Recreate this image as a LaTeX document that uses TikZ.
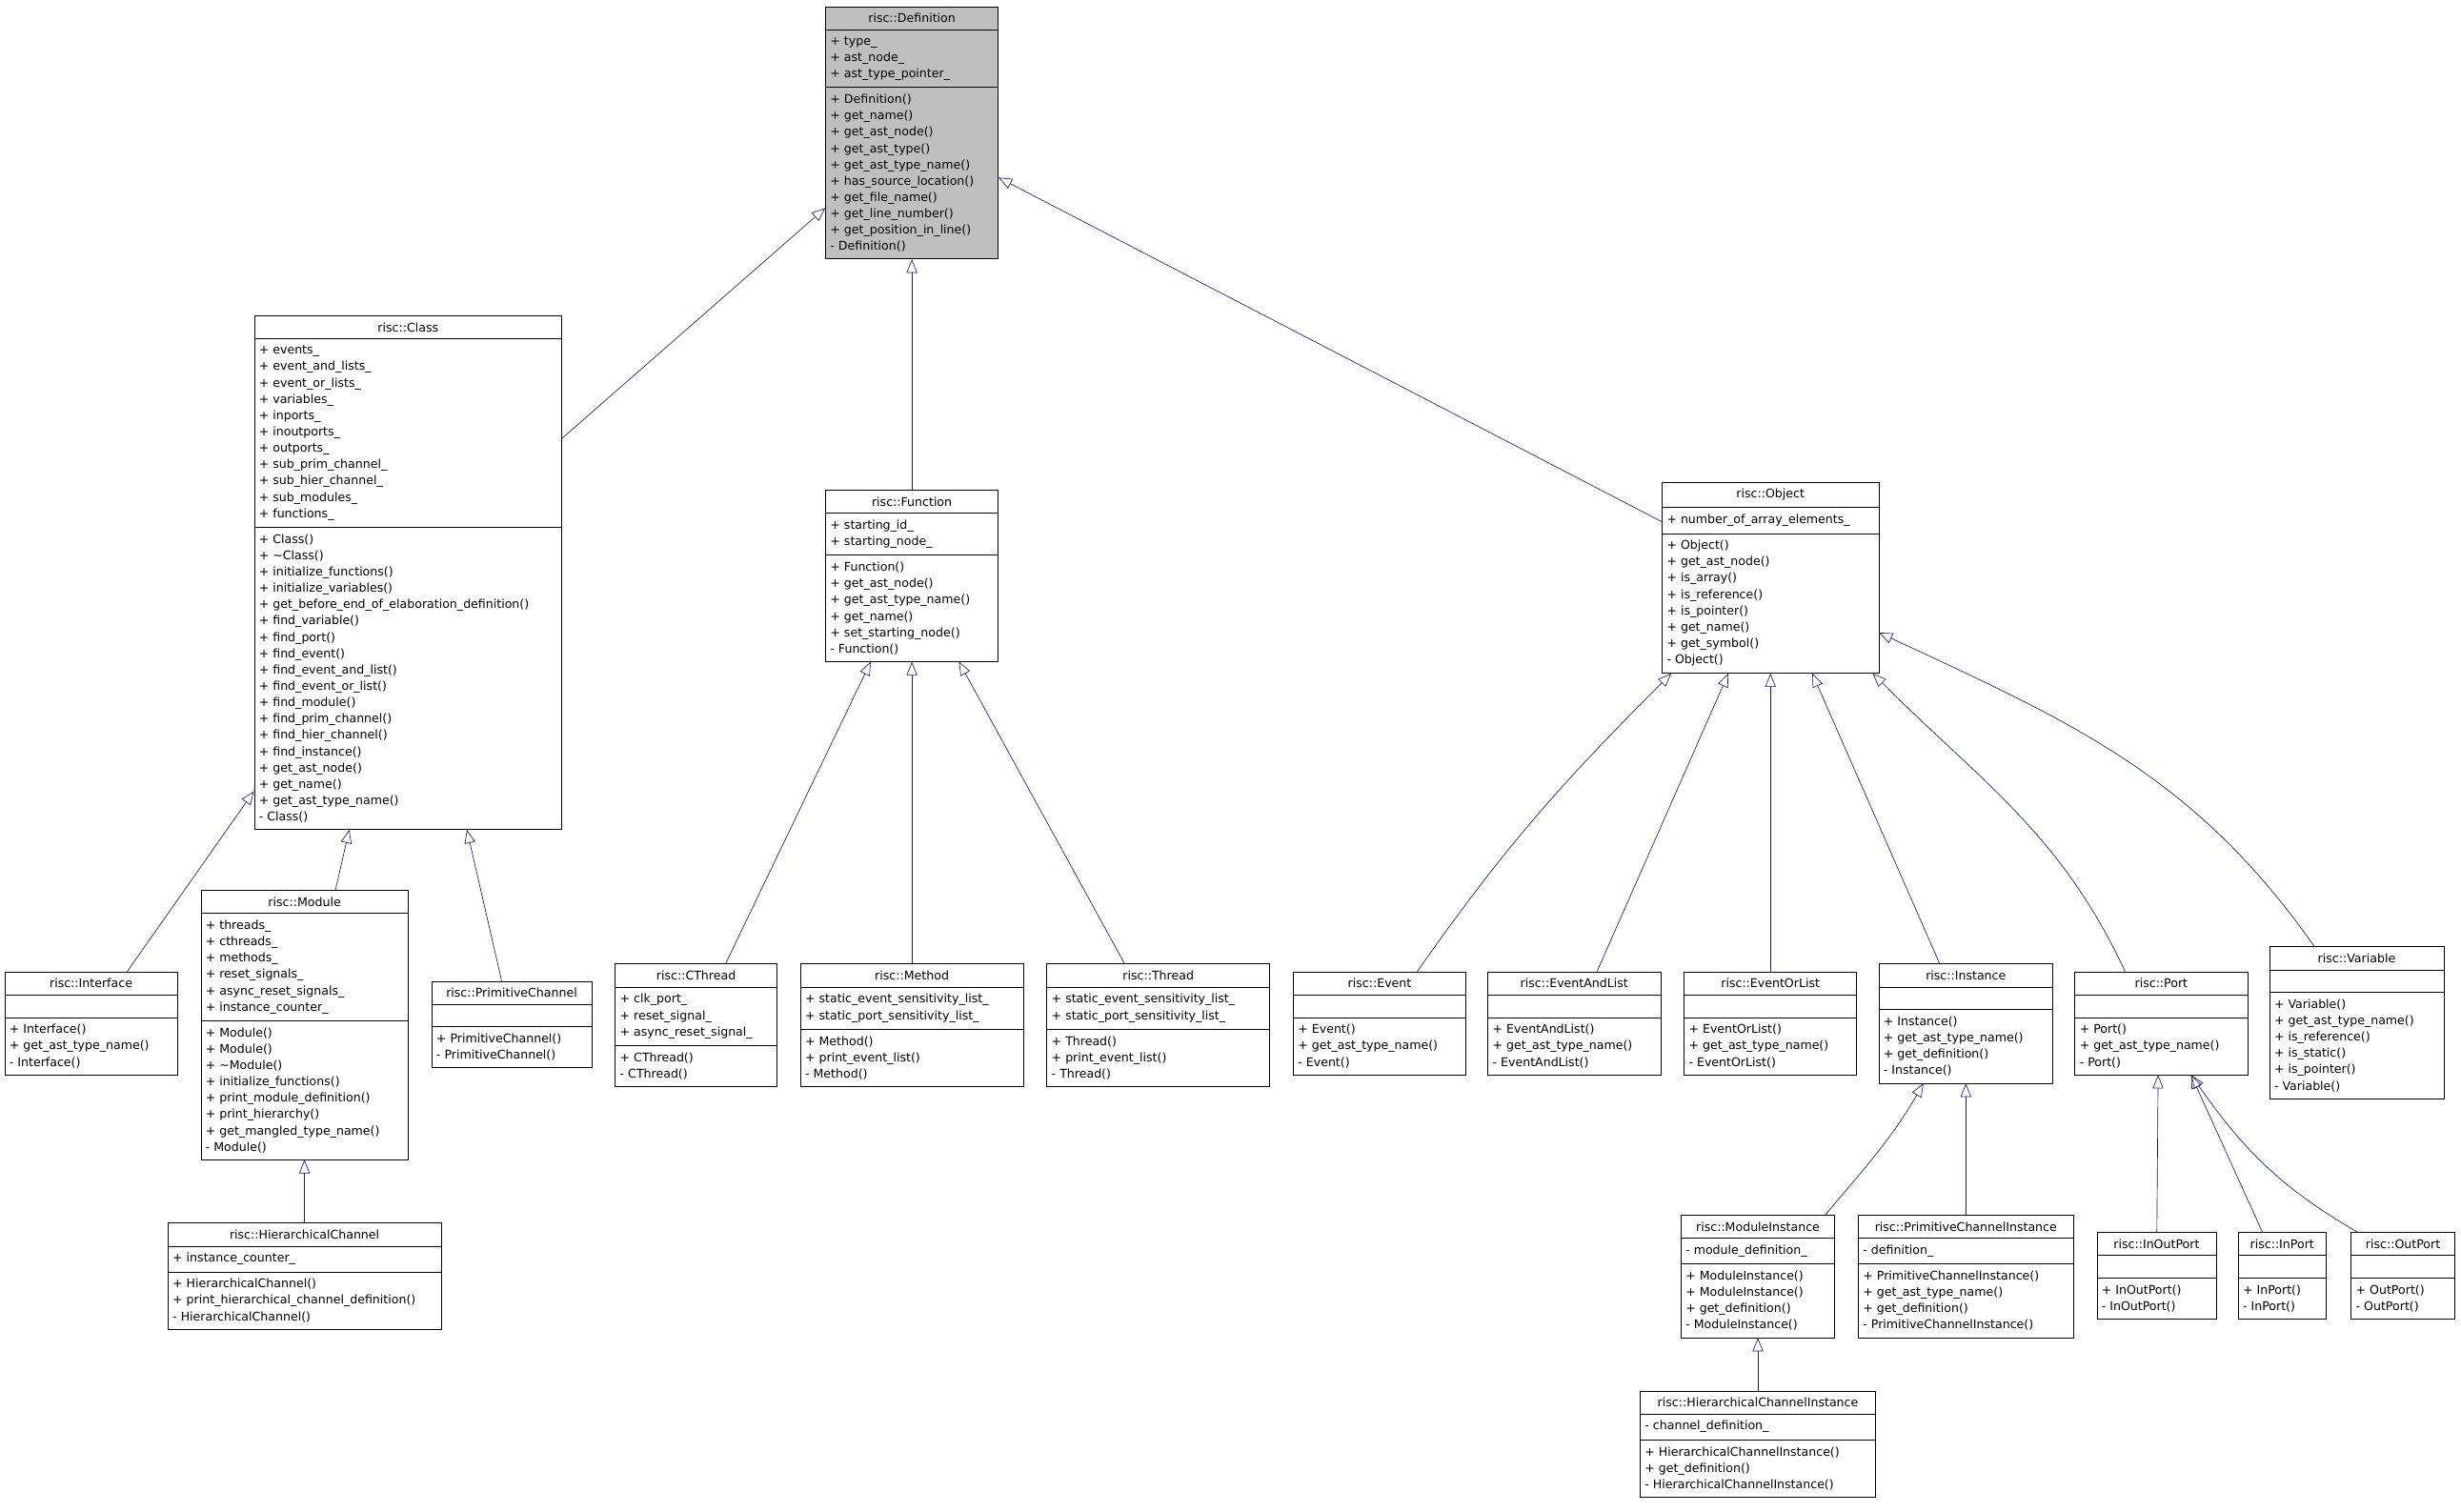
\documentclass[tikz,border=0pt]{standalone}
\usepackage{fontspec}
\setmainfont{DejaVu Sans}
\usetikzlibrary{shapes.multipart,arrows.meta}
\definecolor{edgeblue}{HTML}{191970}
\definecolor{basegray}{HTML}{BFBFBF}
\tikzset{
  cls/.style={rectangle split, rectangle split parts=3, draw, anchor=north,
    rectangle split part align={center,left,left}, align=left,
    font=\fontsize{7.6}{10.36}\selectfont, inner xsep=3pt, inner ysep=4.2pt},
  inh/.style={draw=edgeblue, -{Triangle[open,length=0.3cm,width=0.24cm]}}
}
% [options]{name}{x}{y}{width}{title}{attributes}{operations}
\newcommand\umlclass[8][]{\node[cls, minimum width=#5*0.035cm, #1] (#2) at (#3,#4) {#6\nodepart{two}#7\nodepart{three}#8};}
\begin{document}
\begin{tikzpicture}[x=0.035cm, y=-0.035cm]
  \useasboundingbox (0,0) rectangle (1568,963);

  % Base class
  \umlclass[fill=basegray]{def}{581}{4}{110}{risc::Definition}
    {+ type\_\\+ ast\_node\_\\+ ast\_type\_pointer\_}
    {+ Definition()\\+ get\_name()\\+ get\_ast\_node()\\+ get\_ast\_type()\\+ get\_ast\_type\_name()\\+ has\_source\_location()\\+ get\_file\_name()\\+ get\_line\_number()\\+ get\_position\_in\_line()\\- Definition()}

  % Second level
  \umlclass{cls}{260}{201}{196}{risc::Class}
    {+ events\_\\+ event\_and\_lists\_\\+ event\_or\_lists\_\\+ variables\_\\+ inports\_\\+ inoutports\_\\+ outports\_\\+ sub\_prim\_channel\_\\+ sub\_hier\_channel\_\\+ sub\_modules\_\\+ functions\_}
    {+ Class()\\+ \textasciitilde Class()\\+ initialize\_functions()\\+ initialize\_variables()\\+ get\_before\_end\_of\_elaboration\_definition()\\+ find\_variable()\\+ find\_port()\\+ find\_event()\\+ find\_event\_and\_list()\\+ find\_event\_or\_list()\\+ find\_module()\\+ find\_prim\_channel()\\+ find\_hier\_channel()\\+ find\_instance()\\+ get\_ast\_node()\\+ get\_name()\\+ get\_ast\_type\_name()\\- Class()}
  \umlclass{fun}{581}{312}{110}{risc::Function}
    {+ starting\_id\_\\+ starting\_node\_}
    {+ Function()\\+ get\_ast\_node()\\+ get\_ast\_type\_name()\\+ get\_name()\\+ set\_starting\_node()\\- Function()}
  \umlclass{obj}{1128}{307}{138}{risc::Object}
    {+ number\_of\_array\_elements\_}
    {+ Object()\\+ get\_ast\_node()\\+ is\_array()\\+ is\_reference()\\+ is\_pointer()\\+ get\_name()\\+ get\_symbol()\\- Object()}

  % Class children
  \umlclass{iface}{58}{619}{110}{risc::Interface}{}
    {+ Interface()\\+ get\_ast\_type\_name()\\- Interface()}
  \umlclass{mod}{194}{567}{132}{risc::Module}
    {+ threads\_\\+ cthreads\_\\+ methods\_\\+ reset\_signals\_\\+ async\_reset\_signals\_\\+ instance\_counter\_}
    {+ Module()\\+ Module()\\+ \textasciitilde Module()\\+ initialize\_functions()\\+ print\_module\_definition()\\+ print\_hierarchy()\\+ get\_mangled\_type\_name()\\- Module()}
  \umlclass{prim}{326}{625}{102}{risc::PrimitiveChannel}{}
    {+ PrimitiveChannel()\\- PrimitiveChannel()}
  \umlclass{hier}{194}{779}{174}{risc::HierarchicalChannel}
    {+ instance\_counter\_}
    {+ HierarchicalChannel()\\+ print\_hierarchical\_channel\_definition()\\- HierarchicalChannel()}

  % Function children
  \umlclass{cthr}{443.5}{614}{103}{risc::CThread}
    {+ clk\_port\_\\+ reset\_signal\_\\+ async\_reset\_signal\_}
    {+ CThread()\\- CThread()}
  \umlclass{meth}{581}{614}{142}{risc::Method}
    {+ static\_event\_sensitivity\_list\_\\+ static\_port\_sensitivity\_list\_}
    {+ Method()\\+ print\_event\_list()\\- Method()}
  \umlclass{thr}{738}{614}{142}{risc::Thread}
    {+ static\_event\_sensitivity\_list\_\\+ static\_port\_sensitivity\_list\_}
    {+ Thread()\\+ print\_event\_list()\\- Thread()}

  % Object children
  \umlclass{ev}{879}{619}{110}{risc::Event}{}
    {+ Event()\\+ get\_ast\_type\_name()\\- Event()}
  \umlclass{evand}{1003}{619}{110}{risc::EventAndList}{}
    {+ EventAndList()\\+ get\_ast\_type\_name()\\- EventAndList()}
  \umlclass{evor}{1128}{619}{110}{risc::EventOrList}{}
    {+ EventOrList()\\+ get\_ast\_type\_name()\\- EventOrList()}
  \umlclass{inst}{1252.5}{614}{111}{risc::Instance}{}
    {+ Instance()\\+ get\_ast\_type\_name()\\+ get\_definition()\\- Instance()}
  \umlclass{port}{1377}{619}{110}{risc::Port}{}
    {+ Port()\\+ get\_ast\_type\_name()\\- Port()}
  \umlclass{var}{1501.5}{603}{111}{risc::Variable}{}
    {+ Variable()\\+ get\_ast\_type\_name()\\+ is\_reference()\\+ is\_static()\\+ is\_pointer()\\- Variable()}

  % Instance and Port children
  \umlclass{minst}{1120}{774}{98}{risc::ModuleInstance}
    {- module\_definition\_}
    {+ ModuleInstance()\\+ ModuleInstance()\\+ get\_definition()\\- ModuleInstance()}
  \umlclass{pinst}{1252.5}{774}{137}{risc::PrimitiveChannelInstance}
    {- definition\_}
    {+ PrimitiveChannelInstance()\\+ get\_ast\_type\_name()\\+ get\_definition()\\- PrimitiveChannelInstance()}
  \umlclass{hinst}{1120}{886}{150}{risc::HierarchicalChannelInstance}
    {- channel\_definition\_}
    {+ HierarchicalChannelInstance()\\+ get\_definition()\\- HierarchicalChannelInstance()}
  \umlclass{inout}{1374}{785}{76}{risc::InOutPort}{}
    {+ InOutPort()\\- InOutPort()}
  \umlclass{inp}{1454}{785}{56}{risc::InPort}{}
    {+ InPort()\\- InPort()}
  \umlclass{outp}{1531}{785}{66}{risc::OutPort}{}
    {+ OutPort()\\- OutPort()}

  % Inheritance
  \draw[inh] (cls) -- (def);
  \draw[inh] (fun) -- (def);
  \draw[inh] (obj) -- (def);
  \draw[inh] (iface) -- (cls);
  \draw[inh] (mod) -- (cls);
  \draw[inh] (prim) -- (cls);
  \draw[inh] (hier) -- (mod);
  \draw[inh] (cthr) -- (fun);
  \draw[inh] (meth) -- (fun);
  \draw[inh] (thr) -- (fun);
  \draw[inh] ([xshift=24*0.035cm]ev.north) to[out=55,in=-135] ([xshift=6*0.035cm]obj.south west);
  \draw[inh] (evand) -- (obj);
  \draw[inh] (evor) -- (obj);
  \draw[inh] (inst) -- (obj);
  \draw[inh] ([xshift=-23*0.035cm]port.north) to[out=115,in=-45] ([xshift=-4*0.035cm]obj.south east);
  \draw[inh] ([xshift=-27*0.035cm]var.north) to[out=125,in=-25] ([yshift=-35*0.035cm]obj.east);
  \draw[inh] ([xshift=43*0.035cm]minst.north) to[out=50,in=-120] ([xshift=-27*0.035cm]inst.south);
  \draw[inh] (pinst) -- (inst);
  \draw[inh] (hinst) -- (minst);
  \draw[inh] (inout) -- ([xshift=-2*0.035cm]port.south);
  \draw[inh] (inp) -- ([xshift=19*0.035cm]port.south);
  \draw[inh] ([xshift=-29*0.035cm]outp.north) to[out=150,in=-55] ([xshift=19*0.035cm]port.south);
\end{tikzpicture}
\end{document}
